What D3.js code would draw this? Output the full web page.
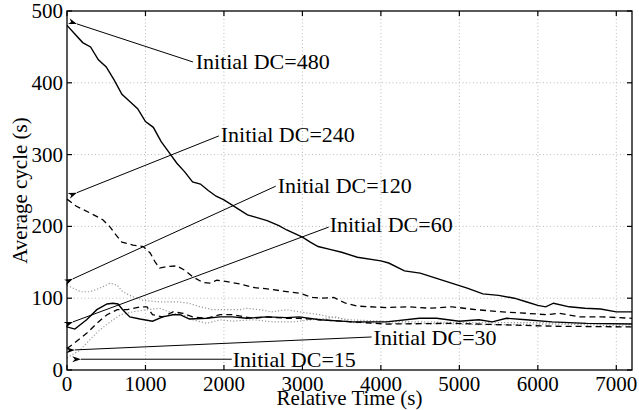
<!DOCTYPE html>
<html>
<head>
<meta charset="utf-8">
<script src="https://cdn.jsdelivr.net/npm/d3@7"></script>
<style>
  body { margin: 0; background: #fff; }
</style>
</head>
<body>
<svg id="chart" width="639" height="410"></svg>
<script>
// [time (s), average cycle (s)]
const dc480 = [[0,480],[100,468],[200,456],[300,450],[400,432],[500,422],[600,404],[700,384],[800,374],[900,364],
  [1000,346],[1100,338],[1200,318],[1300,303],[1400,288],[1500,276],[1600,262],[1700,259],[1800,250],[1900,242],
  [2000,237],[2100,230],[2300,216],[2400,213],[2550,208],[2700,201],[2800,195],[3000,185],[3100,178],[3200,172],
  [3350,168],[3500,164],[3700,157],[4000,152],[4100,149],[4300,138],[4500,135],[4700,128],[4900,121],[5100,114],
  [5300,106],[5500,104],[5700,100],[5850,95],[6000,90],[6100,88],[6200,93],[6400,88],[6600,86],[6800,85],
  [7000,81],[7200,81]];
const dc240 = [[0,238],[120,228],[290,219],[460,209],[550,199],[610,190],[700,178],[840,174],[970,172],[1060,163],
  [1120,151],[1180,142],[1270,144],[1400,145],[1500,139],[1600,130],[1730,122],[1820,121],[1910,125],[2040,123],
  [2200,120],[2370,115],[2550,113],[2750,110],[2960,107],[3130,101],[3250,100],[3400,101],[3550,93],[3700,89],
  [4070,87],[4360,88],[4620,86],[4910,88],[5210,84],[5550,81],[5850,79],[6110,77],[6270,79],[6530,74],
  [6820,74],[7200,72]];
const dc120 = [[0,118],[100,113],[170,109],[290,109],[420,114],[550,121],[640,118],[710,109],[840,102],[970,97],
  [1150,95],[1400,95],[1550,93],[1700,88],[1860,84],[2050,84],[2200,84],[2290,86],[2450,84],[2610,81],
  [2800,84],[2960,81],[3220,77],[3350,74],[3600,70],[4000,68],[4500,67],[5000,66],[5500,66],[6000,66],
  [6500,65],[7200,64]];
const dc60 = [[0,60],[100,57],[250,70],[380,84],[510,92],[585,93],[650,92],[710,84],[800,74],[930,71],
  [1090,68],[1220,74],[1350,77],[1440,77],[1560,71],[1780,72],[1950,74],[2110,74],[2290,72],[2545,74],
  [2800,73],[2960,74],[3220,70],[3640,67],[4070,67],[4490,72],[4710,72],[5000,68],[5250,70],[5420,67],
  [5600,72],[5850,70],[6180,67],[6620,65],[7200,64]];
const dc30 = [[0,30],[100,38],[250,51],[380,65],[510,77],[640,84],[770,84],[930,88],[1020,88],[1090,77],
  [1220,74],[1350,81],[1480,79],[1600,74],[1780,72],[1950,77],[2110,77],[2370,72],[2545,74],[2800,72],
  [2960,72],[3220,70],[3640,67],[4070,64],[4910,65],[5550,63],[6180,61],[7200,60]];
const dc15 = [[0,17],[170,28],[290,42],[420,56],[550,67],[680,77],[840,81],[1020,84],[1180,86],[1350,79],
  [1480,77],[1600,70],[1780,65],[1950,70],[2110,68],[2370,70],[2620,67],[2870,67],[3220,71],[3430,74],
  [3640,66],[4490,65],[5340,63],[6180,64],[6620,63],[7200,61]];

const xTicks = [0, 1000, 2000, 3000, 4000, 5000, 6000, 7000];
const yTicks = [0, 100, 200, 300, 400, 500];

// label, text anchor [t, v], arrow start [t, v], arrow tip [t, v]
const notes = [
  ["Initial DC=480", [1640, 419], [1605, 429], [127, 482]],
  ["Initial DC=240", [1960, 318], [1935, 326], [127, 247]],
  ["Initial DC=120", [2685, 246], [2660, 256], [76, 127]],
  ["Initial DC=60", [3347, 192], [3335, 199], [76, 67]],
  ["Initial DC=30", [3907, 35], [3882, 46], [102, 28]],
  ["Initial DC=15", [2113, 4], [2100, 15], [178, 15]]
];

const svg = d3.select("#chart");
const FONT = "Liberation Serif";
const margin = { left: 67, right: 7, top: 11, bottom: 40 };
const W = 639, H = 410;

const x = d3.scaleLinear().domain([0, 7200]).range([margin.left, W - margin.right]);
const y = d3.scaleLinear().domain([0, 500]).range([H - margin.bottom, margin.top]);

svg.append("defs").append("marker")
  .attr("id", "arrow")
  .attr("viewBox", "0 -4 10 8")
  .attr("refX", 0)
  .attr("refY", 0)
  .attr("markerWidth", 9)
  .attr("markerHeight", 7)
  .attr("markerUnits", "userSpaceOnUse")
  .attr("orient", "auto-start-reverse")
  .append("path")
  .attr("d", "M0,0L10,-3.5L7,0L10,3.5Z")
  .attr("fill", "#000");

// Grid
const grid = svg.append("g");
xTicks.slice(1).forEach(t => {
  grid.append("line").attr("x1", x(t)).attr("x2", x(t)).attr("y1", y(0)).attr("y2", y(500))
    .attr("stroke", "#aaa").attr("stroke-width", 0.8).attr("stroke-dasharray", "1,2.5");
});
yTicks.slice(1, -1).forEach(v => {
  grid.append("line").attr("x1", x(0)).attr("x2", x(7200)).attr("y1", y(v)).attr("y2", y(v))
    .attr("stroke", "#aaa").attr("stroke-width", 0.8).attr("stroke-dasharray", "1,2.5");
});

// Series
const line = d3.line().x(d => x(d[0])).y(d => y(d[1]));
const series = [
  { data: dc120, color: "#999", dash: "1.2,2", width: 1.2 },
  { data: dc15, color: "#999", dash: "1.2,2", width: 1.2 },
  { data: dc240, color: "#000", dash: "6,4", width: 1.3 },
  { data: dc30, color: "#000", dash: "6,4", width: 1.3 },
  { data: dc480, color: "#000", dash: null, width: 1.4 },
  { data: dc60, color: "#000", dash: null, width: 1.4 }
];
series.forEach(s => {
  svg.append("path")
    .attr("d", line(s.data))
    .attr("fill", "none")
    .attr("stroke", s.color)
    .attr("stroke-width", s.width)
    .attr("stroke-dasharray", s.dash);
});

// Annotations
notes.forEach(n => {
  svg.append("line")
    .attr("x1", x(n[2][0])).attr("y1", y(n[2][1]))
    .attr("x2", x(n[3][0])).attr("y2", y(n[3][1]))
    .attr("stroke", "#000").attr("stroke-width", 1)
    .attr("marker-end", "url(#arrow)");
  svg.append("text")
    .attr("x", x(n[1][0])).attr("y", y(n[1][1]))
    .attr("font-family", FONT).attr("font-size", 22)
    .text(n[0]);
});

// Frame and ticks
svg.append("rect")
  .attr("x", x(0)).attr("y", y(500))
  .attr("width", x(7200) - x(0)).attr("height", y(0) - y(500))
  .attr("fill", "none").attr("stroke", "#000").attr("stroke-width", 1.3);

const tickLen = 5;
xTicks.forEach(t => {
  svg.append("line").attr("x1", x(t)).attr("x2", x(t)).attr("y1", y(0)).attr("y2", y(0) - tickLen)
    .attr("stroke", "#000").attr("stroke-width", 1.2);
  svg.append("line").attr("x1", x(t)).attr("x2", x(t)).attr("y1", y(500)).attr("y2", y(500) + tickLen)
    .attr("stroke", "#000").attr("stroke-width", 1.2);
  svg.append("text").attr("x", x(t)).attr("y", y(0) + 21)
    .attr("font-family", FONT).attr("text-anchor", "middle").attr("font-size", 21).text(t);
});
yTicks.forEach(v => {
  svg.append("line").attr("x1", x(0)).attr("x2", x(0) + tickLen).attr("y1", y(v)).attr("y2", y(v))
    .attr("stroke", "#000").attr("stroke-width", 1.2);
  svg.append("line").attr("x1", x(7200)).attr("x2", x(7200) - tickLen).attr("y1", y(v)).attr("y2", y(v))
    .attr("stroke", "#000").attr("stroke-width", 1.2);
  svg.append("text").attr("x", x(0) - 4).attr("y", y(v) + 7)
    .attr("font-family", FONT).attr("text-anchor", "end").attr("font-size", 21).text(v);
});

// Axis titles
svg.append("text")
  .attr("x", (x(0) + x(7200)) / 2).attr("y", 405)
  .attr("font-family", FONT).attr("text-anchor", "middle").attr("font-size", 21)
  .text("Relative Time (s)");
svg.append("text")
  .attr("transform", `translate(27,${(y(0) + y(500)) / 2}) rotate(-90)`)
  .attr("font-family", FONT).attr("text-anchor", "middle").attr("font-size", 21)
  .text("Average cycle (s)");
</script>
</body>
</html>
